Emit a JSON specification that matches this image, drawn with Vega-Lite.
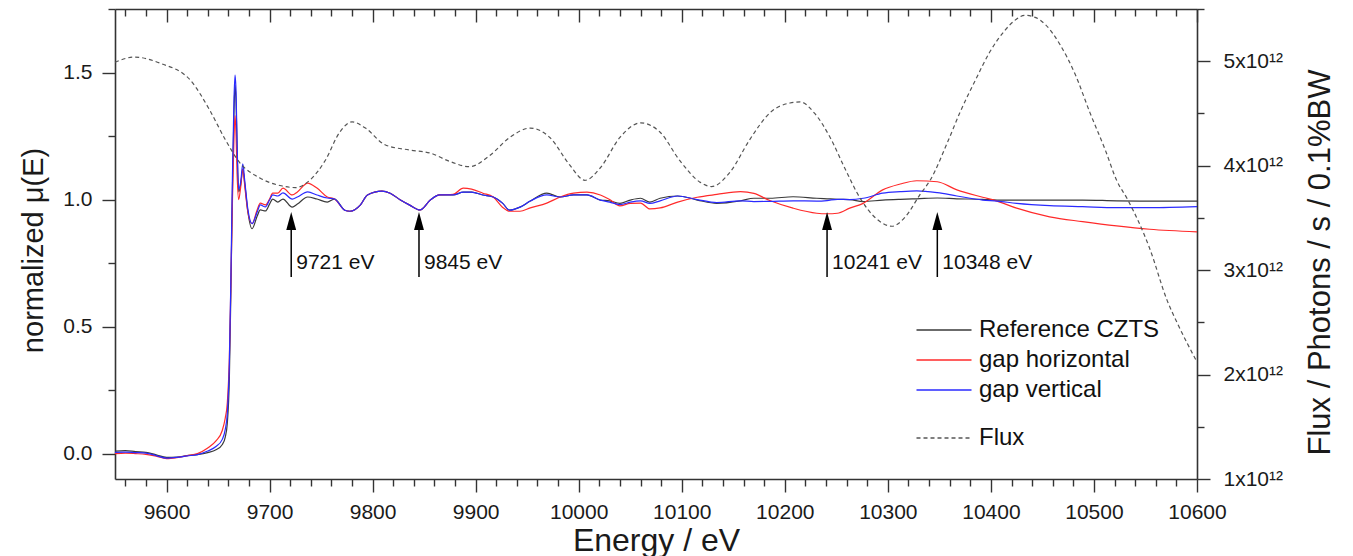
{
  "$schema": "https://vega.github.io/schema/vega-lite/v6.json",
  "width": 1082,
  "height": 470,
  "autosize": {"type": "none"},
  "padding": {"left": 115, "top": 9, "right": 156, "bottom": 77},
  "background": "white",
  "config": {
    "view": {"stroke": null},
    "font": "Liberation Sans",
    "axis": {
      "domainColor": "#333333", "domainWidth": 1.6,
      "tickColor": "#333333", "tickWidth": 1.4,
      "labelColor": "#1a1a1a", "titleColor": "#1a1a1a",
      "labelFont": "Liberation Sans", "titleFont": "Liberation Sans",
      "labelFontSize": 21, "titleFontSize": 30, "titleFontWeight": "normal",
      "grid": false
    },
    "legend": {
      "orient": "none",
      "symbolType": "M-5,0H5",
      "symbolSize": 121,
      "symbolStrokeWidth": 1.4,
      "labelFont": "Liberation Sans",
      "labelFontSize": 24,
      "labelColor": "#111111",
      "labelLimit": 400,
      "rowPadding": 6,
      "labelOffset": 23
    }
  },
  "datasets": {
    "mu": [
      {"E": 9550, "Reference CZTS": 0.010, "gap horizontal": 0.000, "gap vertical": 0.005},
      {"E": 9560, "Reference CZTS": 0.012, "gap horizontal": 0.002, "gap vertical": 0.006},
      {"E": 9570, "Reference CZTS": 0.008, "gap horizontal": 0.000, "gap vertical": 0.004},
      {"E": 9580, "Reference CZTS": 0.005, "gap horizontal": -0.003, "gap vertical": 0.002},
      {"E": 9590, "Reference CZTS": -0.005, "gap horizontal": -0.010, "gap vertical": -0.008},
      {"E": 9600, "Reference CZTS": -0.015, "gap horizontal": -0.020, "gap vertical": -0.018},
      {"E": 9610, "Reference CZTS": -0.014, "gap horizontal": -0.016, "gap vertical": -0.015},
      {"E": 9620, "Reference CZTS": -0.008, "gap horizontal": -0.008, "gap vertical": -0.009},
      {"E": 9630, "Reference CZTS": -0.004, "gap horizontal": 0.000, "gap vertical": -0.004},
      {"E": 9640, "Reference CZTS": 0.004, "gap horizontal": 0.022, "gap vertical": 0.010},
      {"E": 9648, "Reference CZTS": 0.015, "gap horizontal": 0.050, "gap vertical": 0.028},
      {"E": 9654, "Reference CZTS": 0.035, "gap horizontal": 0.090, "gap vertical": 0.055},
      {"E": 9657, "Reference CZTS": 0.065, "gap horizontal": 0.140, "gap vertical": 0.095},
      {"E": 9659, "Reference CZTS": 0.12, "gap horizontal": 0.20, "gap vertical": 0.16},
      {"E": 9661, "Reference CZTS": 0.30, "gap horizontal": 0.38, "gap vertical": 0.36},
      {"E": 9662.5, "Reference CZTS": 0.65, "gap horizontal": 0.68, "gap vertical": 0.70},
      {"E": 9664, "Reference CZTS": 1.05, "gap horizontal": 1.00, "gap vertical": 1.10},
      {"E": 9665.5, "Reference CZTS": 1.35, "gap horizontal": 1.25, "gap vertical": 1.40},
      {"E": 9666.5, "Reference CZTS": 1.45, "gap horizontal": 1.33, "gap vertical": 1.49},
      {"E": 9667.5, "Reference CZTS": 1.38, "gap horizontal": 1.25, "gap vertical": 1.42},
      {"E": 9668.5, "Reference CZTS": 1.20, "gap horizontal": 1.10, "gap vertical": 1.22},
      {"E": 9670, "Reference CZTS": 1.03, "gap horizontal": 1.00, "gap vertical": 1.04},
      {"E": 9672, "Reference CZTS": 1.06, "gap horizontal": 1.05, "gap vertical": 1.07},
      {"E": 9674, "Reference CZTS": 1.12, "gap horizontal": 1.12, "gap vertical": 1.14},
      {"E": 9676, "Reference CZTS": 1.06, "gap horizontal": 1.05, "gap vertical": 1.07},
      {"E": 9679, "Reference CZTS": 0.95, "gap horizontal": 0.95, "gap vertical": 0.96},
      {"E": 9683, "Reference CZTS": 0.885, "gap horizontal": 0.905, "gap vertical": 0.905},
      {"E": 9688, "Reference CZTS": 0.935, "gap horizontal": 0.960, "gap vertical": 0.951},
      {"E": 9691, "Reference CZTS": 0.959, "gap horizontal": 0.986, "gap vertical": 0.979},
      {"E": 9696, "Reference CZTS": 0.955, "gap horizontal": 0.979, "gap vertical": 0.971},
      {"E": 9700, "Reference CZTS": 0.982, "gap horizontal": 1.002, "gap vertical": 0.998},
      {"E": 9703, "Reference CZTS": 1.002, "gap horizontal": 1.025, "gap vertical": 1.018},
      {"E": 9708, "Reference CZTS": 0.990, "gap horizontal": 1.025, "gap vertical": 1.014},
      {"E": 9713, "Reference CZTS": 1.002, "gap horizontal": 1.045, "gap vertical": 1.026},
      {"E": 9722, "Reference CZTS": 0.970, "gap horizontal": 1.018, "gap vertical": 1.002},
      {"E": 9727, "Reference CZTS": 0.982, "gap horizontal": 1.030, "gap vertical": 1.010},
      {"E": 9737, "Reference CZTS": 1.010, "gap horizontal": 1.065, "gap vertical": 1.030},
      {"E": 9746, "Reference CZTS": 1.002, "gap horizontal": 1.045, "gap vertical": 1.018},
      {"E": 9756, "Reference CZTS": 0.990, "gap horizontal": 1.010, "gap vertical": 1.006},
      {"E": 9763, "Reference CZTS": 1.002, "gap horizontal": 1.002, "gap vertical": 1.002},
      {"E": 9773, "Reference CZTS": 0.958, "gap horizontal": 0.958, "gap vertical": 0.958},
      {"E": 9778, "Reference CZTS": 0.954, "gap horizontal": 0.954, "gap vertical": 0.954},
      {"E": 9788, "Reference CZTS": 0.978, "gap horizontal": 0.978, "gap vertical": 0.978},
      {"E": 9795, "Reference CZTS": 1.018, "gap horizontal": 1.018, "gap vertical": 1.018},
      {"E": 9809, "Reference CZTS": 1.033, "gap horizontal": 1.033, "gap vertical": 1.033},
      {"E": 9817, "Reference CZTS": 1.025, "gap horizontal": 1.025, "gap vertical": 1.025},
      {"E": 9827, "Reference CZTS": 0.998, "gap horizontal": 0.998, "gap vertical": 0.998},
      {"E": 9836, "Reference CZTS": 0.978, "gap horizontal": 0.978, "gap vertical": 0.978},
      {"E": 9846, "Reference CZTS": 0.959, "gap horizontal": 0.959, "gap vertical": 0.959},
      {"E": 9856, "Reference CZTS": 0.998, "gap horizontal": 0.998, "gap vertical": 0.998},
      {"E": 9865, "Reference CZTS": 1.018, "gap horizontal": 1.018, "gap vertical": 1.018},
      {"E": 9878, "Reference CZTS": 1.018, "gap horizontal": 1.020, "gap vertical": 1.018},
      {"E": 9888, "Reference CZTS": 1.029, "gap horizontal": 1.045, "gap vertical": 1.029},
      {"E": 9896, "Reference CZTS": 1.029, "gap horizontal": 1.041, "gap vertical": 1.029},
      {"E": 9907, "Reference CZTS": 1.018, "gap horizontal": 1.025, "gap vertical": 1.018},
      {"E": 9917, "Reference CZTS": 1.010, "gap horizontal": 1.010, "gap vertical": 1.010},
      {"E": 9926, "Reference CZTS": 0.986, "gap horizontal": 0.970, "gap vertical": 0.986},
      {"E": 9933, "Reference CZTS": 0.958, "gap horizontal": 0.954, "gap vertical": 0.958},
      {"E": 9943, "Reference CZTS": 0.970, "gap horizontal": 0.954, "gap vertical": 0.970},
      {"E": 9953, "Reference CZTS": 0.994, "gap horizontal": 0.967, "gap vertical": 0.994},
      {"E": 9969, "Reference CZTS": 1.025, "gap horizontal": 0.986, "gap vertical": 1.018},
      {"E": 9982, "Reference CZTS": 1.010, "gap horizontal": 1.010, "gap vertical": 1.010},
      {"E": 9995, "Reference CZTS": 1.018, "gap horizontal": 1.025, "gap vertical": 1.018},
      {"E": 10008, "Reference CZTS": 1.018, "gap horizontal": 1.029, "gap vertical": 1.018},
      {"E": 10021, "Reference CZTS": 0.998, "gap horizontal": 1.018, "gap vertical": 0.998},
      {"E": 10030, "Reference CZTS": 0.995, "gap horizontal": 1.000, "gap vertical": 0.990},
      {"E": 10040, "Reference CZTS": 0.985, "gap horizontal": 0.975, "gap vertical": 0.980},
      {"E": 10050, "Reference CZTS": 0.998, "gap horizontal": 0.985, "gap vertical": 0.990},
      {"E": 10060, "Reference CZTS": 1.005, "gap horizontal": 0.986, "gap vertical": 0.995},
      {"E": 10069, "Reference CZTS": 0.990, "gap horizontal": 0.963, "gap vertical": 0.985},
      {"E": 10079, "Reference CZTS": 1.005, "gap horizontal": 0.967, "gap vertical": 0.995},
      {"E": 10096, "Reference CZTS": 1.014, "gap horizontal": 0.990, "gap vertical": 1.014},
      {"E": 10115, "Reference CZTS": 0.998, "gap horizontal": 1.009, "gap vertical": 1.000},
      {"E": 10134, "Reference CZTS": 0.985, "gap horizontal": 1.020, "gap vertical": 0.988},
      {"E": 10157, "Reference CZTS": 0.995, "gap horizontal": 1.031, "gap vertical": 0.995},
      {"E": 10170, "Reference CZTS": 1.005, "gap horizontal": 1.024, "gap vertical": 0.992},
      {"E": 10186, "Reference CZTS": 1.005, "gap horizontal": 0.995, "gap vertical": 0.993},
      {"E": 10208, "Reference CZTS": 1.011, "gap horizontal": 0.966, "gap vertical": 0.995},
      {"E": 10231, "Reference CZTS": 1.005, "gap horizontal": 0.946, "gap vertical": 0.994},
      {"E": 10241, "Reference CZTS": 1.003, "gap horizontal": 0.944, "gap vertical": 0.996},
      {"E": 10251, "Reference CZTS": 1.001, "gap horizontal": 0.946, "gap vertical": 1.001},
      {"E": 10263, "Reference CZTS": 1.000, "gap horizontal": 0.966, "gap vertical": 1.000},
      {"E": 10276, "Reference CZTS": 0.992, "gap horizontal": 0.985, "gap vertical": 1.005},
      {"E": 10295, "Reference CZTS": 0.998, "gap horizontal": 1.038, "gap vertical": 1.025},
      {"E": 10312, "Reference CZTS": 1.001, "gap horizontal": 1.061, "gap vertical": 1.031},
      {"E": 10328, "Reference CZTS": 1.003, "gap horizontal": 1.074, "gap vertical": 1.034},
      {"E": 10348, "Reference CZTS": 1.006, "gap horizontal": 1.070, "gap vertical": 1.027},
      {"E": 10367, "Reference CZTS": 1.003, "gap horizontal": 1.038, "gap vertical": 1.014},
      {"E": 10392, "Reference CZTS": 1.001, "gap horizontal": 1.009, "gap vertical": 0.998},
      {"E": 10406, "Reference CZTS": 0.998, "gap horizontal": 0.994, "gap vertical": 0.994},
      {"E": 10425, "Reference CZTS": 0.998, "gap horizontal": 0.966, "gap vertical": 0.985},
      {"E": 10457, "Reference CZTS": 0.998, "gap horizontal": 0.932, "gap vertical": 0.976},
      {"E": 10489, "Reference CZTS": 0.998, "gap horizontal": 0.913, "gap vertical": 0.972},
      {"E": 10522, "Reference CZTS": 0.995, "gap horizontal": 0.896, "gap vertical": 0.968},
      {"E": 10554, "Reference CZTS": 0.994, "gap horizontal": 0.883, "gap vertical": 0.968},
      {"E": 10600, "Reference CZTS": 0.994, "gap horizontal": 0.873, "gap vertical": 0.972}
    ],
    "flux": [
      {"E": 9550, "flux": 4.99e12}, {"E": 9569, "flux": 5.04e12}, {"E": 9594, "flux": 4.98e12},
      {"E": 9623, "flux": 4.82e12}, {"E": 9642, "flux": 4.53e12}, {"E": 9657, "flux": 4.25e12},
      {"E": 9671, "flux": 4.03e12}, {"E": 9691, "flux": 3.88e12}, {"E": 9710, "flux": 3.81e12},
      {"E": 9725, "flux": 3.79e12}, {"E": 9739, "flux": 3.86e12}, {"E": 9754, "flux": 4.05e12},
      {"E": 9768, "flux": 4.32e12}, {"E": 9780, "flux": 4.42e12}, {"E": 9793, "flux": 4.36e12},
      {"E": 9812, "flux": 4.20e12}, {"E": 9836, "flux": 4.15e12}, {"E": 9856, "flux": 4.12e12},
      {"E": 9875, "flux": 4.04e12}, {"E": 9894, "flux": 3.99e12}, {"E": 9914, "flux": 4.10e12},
      {"E": 9933, "flux": 4.27e12}, {"E": 9953, "flux": 4.36e12}, {"E": 9972, "flux": 4.27e12},
      {"E": 9991, "flux": 4.01e12}, {"E": 10006, "flux": 3.86e12}, {"E": 10021, "flux": 3.98e12},
      {"E": 10040, "flux": 4.27e12}, {"E": 10060, "flux": 4.41e12}, {"E": 10079, "flux": 4.32e12},
      {"E": 10098, "flux": 4.05e12}, {"E": 10118, "flux": 3.84e12}, {"E": 10129, "flux": 3.80e12},
      {"E": 10147, "flux": 3.94e12}, {"E": 10166, "flux": 4.25e12}, {"E": 10186, "flux": 4.51e12},
      {"E": 10205, "flux": 4.60e12}, {"E": 10215, "flux": 4.61e12}, {"E": 10229, "flux": 4.50e12},
      {"E": 10244, "flux": 4.27e12}, {"E": 10258, "flux": 3.98e12}, {"E": 10273, "flux": 3.69e12},
      {"E": 10288, "flux": 3.50e12}, {"E": 10304, "flux": 3.42e12}, {"E": 10317, "flux": 3.51e12},
      {"E": 10331, "flux": 3.72e12}, {"E": 10341, "flux": 3.86e12}, {"E": 10359, "flux": 4.25e12},
      {"E": 10370, "flux": 4.51e12}, {"E": 10385, "flux": 4.82e12}, {"E": 10399, "flux": 5.09e12},
      {"E": 10414, "flux": 5.30e12}, {"E": 10423, "flux": 5.39e12}, {"E": 10433, "flux": 5.44e12},
      {"E": 10443, "flux": 5.42e12}, {"E": 10453, "flux": 5.35e12}, {"E": 10467, "flux": 5.16e12},
      {"E": 10482, "flux": 4.87e12}, {"E": 10496, "flux": 4.51e12}, {"E": 10511, "flux": 4.15e12},
      {"E": 10522, "flux": 3.86e12}, {"E": 10533, "flux": 3.67e12}, {"E": 10554, "flux": 3.21e12},
      {"E": 10571, "flux": 2.71e12}, {"E": 10582, "flux": 2.47e12}, {"E": 10600, "flux": 2.12e12}
    ],
    "arrows": [
      {"E": 9721, "label": "9721 eV"},
      {"E": 9845, "label": "9845 eV"},
      {"E": 10241, "label": "10241 eV"},
      {"E": 10348, "label": "10348 eV"}
    ]
  },
  "layer": [
    {
      "encoding": {
        "x": {
          "field": "E", "type": "quantitative",
          "scale": {"domain": [9550, 10600], "nice": false, "zero": false},
          "axis": {
            "orient": "bottom",
            "values": [9560,9580,9600,9620,9640,9660,9680,9700,9720,9740,9760,9780,9800,9820,9840,9860,9880,9900,9920,9940,9960,9980,10000,10020,10040,10060,10080,10100,10120,10140,10160,10180,10200,10220,10240,10260,10280,10300,10320,10340,10360,10380,10400,10420,10440,10460,10480,10500,10520,10540,10560,10580,10600],
            "labelExpr": "datum.value % 100 === 0 ? format(datum.value, 'd') : ''",
            "tickSize": {"condition": {"test": "datum.value % 100 === 0", "value": 13}, "value": 7},
            "labelPadding": 9,
            "labelOverlap": false,
            "labelFlush": false,
            "title": "Energy / eV",
            "titleFontSize": 32,
            "titlePadding": 3
          }
        }
      },
      "layer": [
        {
          "data": {"name": "mu"},
          "transform": [{"fold": ["Reference CZTS", "gap horizontal", "gap vertical"], "as": ["series", "mu"]}],
          "mark": {"type": "line", "strokeWidth": 1.2, "interpolate": "monotone"},
          "encoding": {
            "y": {
              "field": "mu", "type": "quantitative",
              "scale": {"domain": [-0.1, 1.75], "nice": false, "zero": false},
              "axis": {
                "orient": "left",
                "values": [0, 0.25, 0.5, 0.75, 1, 1.25, 1.5, 1.75],
                "labelExpr": "datum.value % 0.5 === 0 ? format(datum.value, '.1f') : ''",
                "tickSize": {"condition": {"test": "datum.value % 0.5 === 0", "value": 13}, "value": 7},
                "labelPadding": 10,
                "labelOverlap": false,
                "labelFlush": false,
                "title": "normalized μ(E)",
                "titleFontSize": 29,
                "titleY": 241,
                "titlePadding": 14
              }
            },
            "color": {
              "field": "series", "type": "nominal",
              "scale": {"domain": ["Reference CZTS", "gap horizontal", "gap vertical"], "range": ["#3a3a3a", "#ff2a2a", "#2a2aff"]},
              "legend": {"title": null, "legendX": 817, "legendY": 309}
            }
          }
        },
        {
          "data": {"name": "arrows"},
          "mark": {"type": "rule", "color": "#000000", "strokeWidth": 1.5},
          "encoding": {
            "y": {
              "datum": 0.695, "type": "quantitative",
              "scale": {"domain": [-0.1, 1.75], "nice": false, "zero": false},
              "axis": {
                "orient": "left",
                "values": [0, 0.25, 0.5, 0.75, 1, 1.25, 1.5, 1.75],
                "labelExpr": "datum.value % 0.5 === 0 ? format(datum.value, '.1f') : ''",
                "tickSize": {"condition": {"test": "datum.value % 0.5 === 0", "value": 13}, "value": 7},
                "labelPadding": 10,
                "labelOverlap": false,
                "labelFlush": false,
                "title": "normalized μ(E)",
                "titleFontSize": 29,
                "titleY": 241,
                "titlePadding": 14
              }
            },
            "y2": {"datum": 0.895}
          }
        },
        {
          "data": {"name": "arrows"},
          "mark": {"type": "point", "shape": "M0,-1L0.55,1L-0.55,1Z", "filled": true, "color": "#000000", "size": 324, "opacity": 1, "strokeWidth": 0},
          "encoding": {
            "y": {
              "datum": 0.9156, "type": "quantitative",
              "scale": {"domain": [-0.1, 1.75], "nice": false, "zero": false},
              "axis": {
                "orient": "left",
                "values": [0, 0.25, 0.5, 0.75, 1, 1.25, 1.5, 1.75],
                "labelExpr": "datum.value % 0.5 === 0 ? format(datum.value, '.1f') : ''",
                "tickSize": {"condition": {"test": "datum.value % 0.5 === 0", "value": 13}, "value": 7},
                "labelPadding": 10,
                "labelOverlap": false,
                "labelFlush": false,
                "title": "normalized μ(E)",
                "titleFontSize": 29,
                "titleY": 241,
                "titlePadding": 14
              }
            }
          }
        },
        {
          "data": {"name": "arrows"},
          "mark": {"type": "text", "align": "left", "baseline": "middle", "dx": 5, "fontSize": 21, "font": "Liberation Sans", "color": "#111111"},
          "encoding": {
            "y": {
              "datum": 0.75, "type": "quantitative",
              "scale": {"domain": [-0.1, 1.75], "nice": false, "zero": false},
              "axis": {
                "orient": "left",
                "values": [0, 0.25, 0.5, 0.75, 1, 1.25, 1.5, 1.75],
                "labelExpr": "datum.value % 0.5 === 0 ? format(datum.value, '.1f') : ''",
                "tickSize": {"condition": {"test": "datum.value % 0.5 === 0", "value": 13}, "value": 7},
                "labelPadding": 10,
                "labelOverlap": false,
                "labelFlush": false,
                "title": "normalized μ(E)",
                "titleFontSize": 29,
                "titleY": 241,
                "titlePadding": 14
              }
            },
            "text": {"field": "label"}
          }
        }
      ]
    },
    {
      "data": {"name": "flux"},
      "mark": {"type": "line", "strokeWidth": 1.2, "color": "#555555", "interpolate": "monotone"},
      "encoding": {
        "x": {
          "field": "E", "type": "quantitative",
          "scale": {"domain": [9550, 10600], "nice": false, "zero": false},
          "axis": {
            "orient": "top",
            "values": [9560,9580,9600,9620,9640,9660,9680,9700,9720,9740,9760,9780,9800,9820,9840,9860,9880,9900,9920,9940,9960,9980,10000,10020,10040,10060,10080,10100,10120,10140,10160,10180,10200,10220,10240,10260,10280,10300,10320,10340,10360,10380,10400,10420,10440,10460,10480,10500,10520,10540,10560,10580,10600],
            "labels": false,
            "tickSize": {"condition": {"test": "datum.value % 100 === 0", "value": -13}, "value": -7},
            "title": null
          }
        },
        "y": {
          "field": "flux", "type": "quantitative",
          "scale": {"domain": [1e12, 5.5e12], "nice": false, "zero": false},
          "axis": {
            "orient": "right",
            "values": [1e12, 1.5e12, 2e12, 2.5e12, 3e12, 3.5e12, 4e12, 4.5e12, 5e12, 5.5e12],
            "labelExpr": "datum.value % 1e12 === 0 ? format(datum.value / 1e12, 'd') + 'x10¹²' : ''",
            "tickSize": {"condition": {"test": "datum.value % 1e12 === 0", "value": 13}, "value": 7},
            "labelPadding": 13,
            "labelOverlap": false,
            "labelFlush": false,
            "title": "Flux / Photons / s / 0.1%BW",
            "titleFontSize": 31,
            "titleAngle": 270,
            "titleBaseline": "top",
            "titleY": 253,
            "titlePadding": 23
          }
        },
        "strokeDash": {
          "datum": "Flux", "type": "nominal",
          "scale": {"domain": ["Flux"], "range": [[4, 3]]},
          "legend": {"title": null, "legendX": 817, "legendY": 417, "symbolStrokeColor": "#555555"}
        }
      }
    }
  ],
  "resolve": {
    "scale": {"y": "independent"},
    "axis": {"x": "independent", "y": "independent"}
  }
}
